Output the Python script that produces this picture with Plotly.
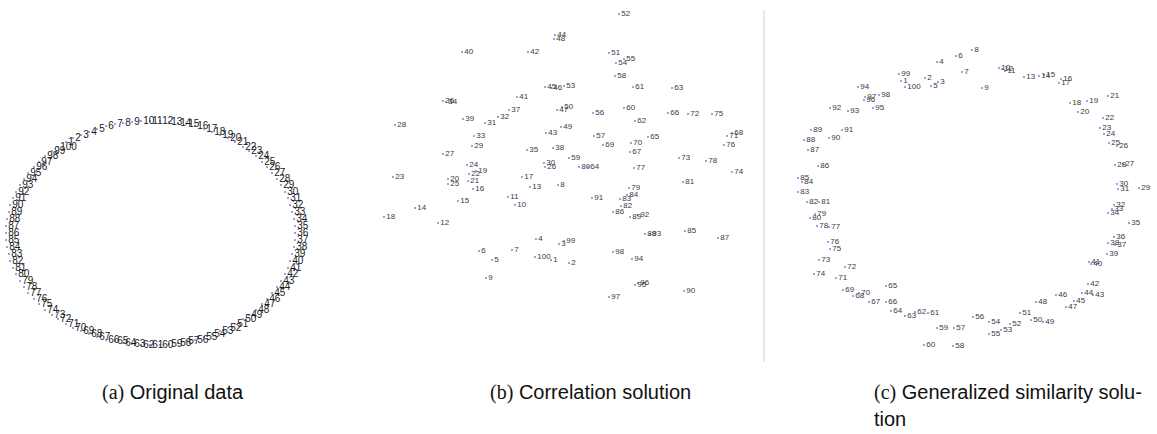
import plotly.graph_objects as go

# ---- (a) original data: 100 points laid out around an ellipse ----
orig_x = [66, 73, 81, 89, 97, 106, 115, 123, 132, 141,
          150, 160, 169, 178, 186, 195, 204, 212, 220, 228,
          235, 243, 249, 256, 262, 267, 272, 277, 281, 285,
          288, 290, 292, 294, 295, 295, 295, 294, 292, 290,
          288, 285, 281, 277, 272, 267, 262, 256, 249, 243,
          235, 228, 220, 212, 204, 195, 186, 178, 169, 160,
          150, 141, 132, 123, 115, 106, 97, 89, 81, 73,
          66, 58, 52, 45, 39, 34, 28, 24, 20, 16,
          13, 10, 9, 7, 6, 6, 6, 7, 9, 10,
          13, 16, 20, 24, 28, 34, 39, 45, 52, 58]
orig_y = [142, 138, 135, 132, 129, 126, 124, 123, 122, 121,
          121, 121, 122, 123, 124, 126, 129, 132, 135, 138,
          142, 147, 151, 156, 162, 167, 173, 179, 185, 192,
          198, 205, 212, 219, 226, 233, 240, 247, 254, 261,
          268, 274, 281, 287, 293, 299, 304, 310, 315, 319,
          324, 328, 331, 334, 337, 340, 341, 343, 344, 345,
          345, 345, 344, 343, 341, 340, 337, 334, 331, 328,
          324, 319, 315, 310, 304, 299, 293, 287, 281, 274,
          268, 261, 254, 247, 240, 233, 226, 219, 212, 205,
          198, 192, 185, 179, 173, 167, 162, 156, 151, 147]

# ---- (b) correlation solution ----
corr_x = [551, 569, 559, 536, 492, 479, 512, 558, 486, 515,
          508, 438, 530, 415, 458, 473, 522, 384, 476, 448,
          468, 469, 393, 467, 448, 545, 443, 395, 472, 544,
          485, 498, 474, 446, 527, 443, 509, 553, 463, 462,
          517, 528, 546, 555, 545, 551, 557, 554, 561, 562,
          609, 619, 564, 616, 624, 593, 594, 615, 569, 624,
          633, 635, 672, 588, 648, 668, 630, 732, 603, 631,
          727, 688, 679, 732, 712, 724, 634, 706, 629, 579,
          683, 621, 620, 627, 685, 613, 718, 645, 630, 684,
          592, 638, 650, 632, 635, 638, 609, 613, 564, 535]
corr_y = [260, 263, 244, 239, 260, 251, 250, 185, 278, 205,
          197, 223, 187, 208, 201, 189, 177, 217, 171, 179,
          181, 174, 177, 165, 184, 167, 154, 125, 146, 163,
          123, 117, 136, 102, 150, 101, 110, 148, 119, 52,
          97, 52, 133, 35, 87, 88, 110, 39, 127, 107,
          53, 14, 86, 63, 59, 113, 136, 76, 158, 108,
          87, 121, 88, 167, 137, 113, 152, 133, 145, 143,
          136, 114, 158, 172, 114, 145, 168, 161, 188, 167,
          182, 206, 199, 195, 231, 212, 238, 234, 217, 291,
          198, 215, 234, 259, 285, 283, 297, 252, 241, 257]

# ---- (c) generalized similarity solution ----
gsim_x = [901, 925, 938, 937, 931, 956, 962, 972, 982, 999,
          1005, 1002, 1024, 1039, 1044, 1061, 1059, 1070, 1087, 1078,
          1108, 1103, 1100, 1104, 1109, 1117, 1123, 1115, 1139, 1117,
          1118, 1114, 1112, 1108, 1129, 1114, 1115, 1108, 1107, 1091,
          1089, 1088, 1093, 1082, 1074, 1056, 1066, 1036, 1043, 1031,
          1020, 1010, 1001, 989, 989, 973, 954, 953, 937, 924,
          928, 915, 905, 891, 886, 886, 869, 853, 843, 859,
          836, 845, 819, 814, 830, 828, 829, 817, 815, 810,
          819, 807, 798, 802, 798, 818, 808, 804, 811, 829,
          842, 830, 848, 858, 873, 864, 865, 879, 899, 905]
gsim_y = [81, 78, 82, 62, 86, 56, 72, 50, 88, 68,
          71, 69, 77, 76, 75, 79, 83, 103, 101, 112,
          96, 118, 128, 134, 143, 146, 164, 165, 188, 184,
          189, 205, 209, 213, 223, 237, 245, 243, 254, 264,
          262, 284, 295, 293, 301, 295, 307, 302, 322, 320,
          313, 324, 330, 322, 334, 317, 328, 346, 328, 345,
          313, 312, 316, 311, 286, 302, 302, 296, 290, 293,
          278, 267, 260, 274, 249, 242, 227, 226, 214, 218,
          202, 202, 192, 182, 178, 166, 150, 140, 130, 138,
          130, 108, 111, 87, 108, 100, 97, 95, 74, 87]

point_labels = [str(i) for i in range(1, 101)]

captions = [
    ("<span style='font-family:Liberation Serif'>(a)</span> Original data", 100, 392),
    ("<span style='font-family:Liberation Serif'>(b)</span> Correlation solution", 488, 392),
    ("<span style='font-family:Liberation Serif'>(c)</span> Generalized similarity solu-", 872, 392),
    ("tion", 872, 419),
]

fig = go.Figure()

panels = [
    (orig_x, orig_y, "#1a1a1a", 10),
    (corr_x, corr_y, "#3a3a3a", 8),
    (gsim_x, gsim_y, "#3a3a3a", 8),
]
for xs, ys, tcol, tsize in panels:
    fig.add_trace(go.Scatter(
        x=xs, y=ys, text=point_labels, mode="markers+text",
        textposition="middle right",
        marker=dict(size=2, color="#7d7dff"),
        textfont=dict(family="Liberation Sans", size=tsize, color=tcol),
        hoverinfo="skip", showlegend=False, cliponaxis=False,
    ))

# divider between the second and third panels
fig.add_shape(type="line", x0=764, x1=764, y0=10, y1=362, xref="x", yref="y",
              line=dict(color="#d0d0d0", width=1))

for txt, cx, cy in captions:
    fig.add_annotation(x=cx, y=cy, xref="x", yref="y", text=txt, showarrow=False,
                       xanchor="left", yanchor="middle",
                       font=dict(family="Liberation Sans", size=20, color="#111111"))

fig.update_layout(
    width=1157, height=434, margin=dict(l=0, r=0, t=0, b=0),
    paper_bgcolor="white", plot_bgcolor="white",
    xaxis=dict(range=[0, 1157], visible=False, fixedrange=True),
    yaxis=dict(range=[434, 0], visible=False, fixedrange=True),
)

fig.write_html("out.html")
